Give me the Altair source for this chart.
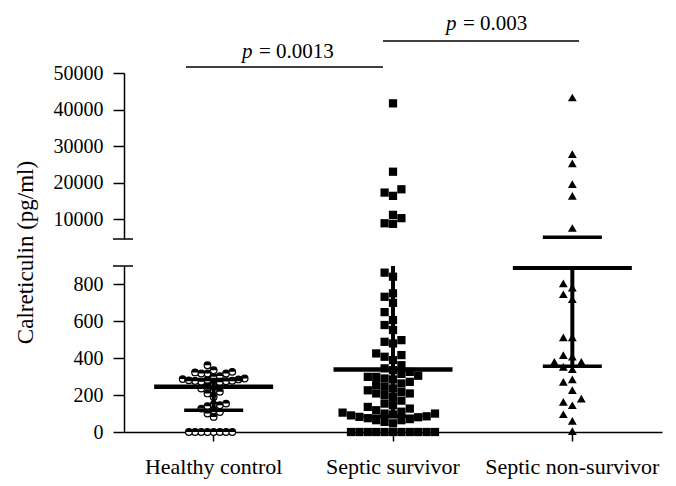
import altair as alt
import pandas as pd

# ---------------- data ----------------
groups = ["Healthy control", "Septic survivor", "Septic non-survivor"]

healthy_values = [0, 0, 0, 0, 0, 0, 0, 0,
                  82, 100, 108, 118, 127, 140, 145, 150, 154, 190, 209, 218,
                  227, 236, 250, 262, 270, 272, 275, 277, 278, 280, 282, 285,
                  287, 290, 299, 303, 317, 317, 317, 323, 326, 335, 362]

survivor_values = [0, 0, 0, 0, 0, 0, 0, 0, 0, 0, 0,
                   47, 55, 64, 64, 70, 75, 80, 82, 85, 90, 95, 100, 100, 105,
                   110, 118, 127, 136, 145, 154, 170, 190, 200, 209, 209, 217,
                   226, 236, 245, 254, 263, 272, 285, 290, 299, 299, 305, 315,
                   326, 335, 345, 362, 390, 408, 417, 426, 480, 489, 498, 553,
                   580, 607, 650, 700, 733, 752, 842, 864,
                   8750, 8900, 10300, 11200, 16400, 17300, 18200, 23000, 41700]

nonsurvivor_values = [5, 60, 96, 145, 163, 181, 227, 272, 285, 340, 353, 380,
                      380, 408, 417, 513, 513, 720, 747, 783, 806,
                      7600, 16400, 19600, 25300, 27800, 43300]

medians = [245, 339, 891]
lower_quartiles = [118, 85, 357]
upper_quartiles = [285, 1500, 5100]

p_values = ["= 0.0013", "= 0.003"]
y_title = "Calreticulin (pg/ml)"
low_ticks = [0, 200, 400, 600, 800]
high_ticks = [10000, 20000, 30000, 40000, 50000]
LOW_DOMAIN = [0, 900]
HIGH_DOMAIN = [4600, 50000]

# ---------------- layout constants ----------------
W, H = 538, 166
BAND = W / 3
FONT = "Liberation Serif"
step = {"Healthy control": 6.2, "Septic survivor": 8.4, "Septic non-survivor": 9.0}


def swarm(vals, ppu, d):
    """Deterministic beeswarm: slot offsets so markers do not overlap."""
    placed, out = [], []
    for v in sorted(vals):
        k = 0
        while True:
            slot = 0 if k == 0 else ((k + 1) // 2) * (-1 if k % 2 else 1)
            if all(not (s == slot and abs(pv - v) * ppu < d * 0.95) for pv, s in placed):
                break
            k += 1
        placed.append((v, slot))
        out.append((v, slot * d))
    return out


rows = []
for g, vals in zip(groups, [healthy_values, survivor_values, nonsurvivor_values]):
    low = [v for v in vals if v <= LOW_DOMAIN[1]]
    high = [v for v in vals if v > LOW_DOMAIN[1]]
    for v, o in swarm(low, H / (LOW_DOMAIN[1] - LOW_DOMAIN[0]), step[g]):
        rows.append({"group": g, "value": v, "offset": o, "panel": "low"})
    for v, o in swarm(high, H / (HIGH_DOMAIN[1] - HIGH_DOMAIN[0]), step[g]):
        rows.append({"group": g, "value": v, "offset": o, "panel": "high"})
points_df = pd.DataFrame(rows)

summary_df = pd.DataFrame({"group": groups, "median": medians,
                           "q1": lower_quartiles, "q3": upper_quartiles})
one = pd.DataFrame({"i": [0]})
ann_df = pd.DataFrame({"label": p_values})


def panel(name):
    low = name == "low"
    ysc = alt.Scale(domain=LOW_DOMAIN if low else HIGH_DOMAIN, nice=False, zero=False)
    if low:
        yax = alt.Axis(values=low_ticks, format="d", titleX=-87, titleY=-14)
        xax = alt.Axis(labelAngle=0)
    else:
        yax = alt.Axis(values=high_ticks, format="d")
        xax = None

    def Y(field):
        if low:
            return alt.Y(field, scale=ysc, axis=yax, title=y_title)
        return alt.Y(field, scale=ysc, axis=yax, title=None)

    X = alt.X("group:N", sort=groups,
              scale=alt.Scale(domain=groups, paddingInner=0, paddingOuter=0),
              axis=xax, title=None)
    OFF = alt.XOffset("offset:Q",
                      scale=alt.Scale(domain=[-80, 80], range=[BAND / 2 - 80, BAND / 2 + 80]))

    base = alt.Chart(points_df).transform_filter(alt.datum.panel == name)
    circ_bg = base.transform_filter(alt.datum.group == groups[0]).mark_point(
        shape="circle", filled=True, fill="white", stroke="black",
        strokeWidth=1.2, size=44, opacity=1).encode(x=X, xOffset=OFF, y=Y("value:Q"))
    circ_top = base.transform_filter(alt.datum.group == groups[0]).mark_point(
        shape="M -1 0 A 1 1 0 0 1 1 0 Z", filled=True, color="black",
        size=44, opacity=1).encode(x=X, xOffset=OFF, y=Y("value:Q"))
    squares = base.transform_filter(alt.datum.group == groups[1]).mark_point(
        shape="square", filled=True, color="black", size=68, opacity=1
    ).encode(x=X, xOffset=OFF, y=Y("value:Q"))
    tris = base.transform_filter(alt.datum.group == groups[2]).mark_point(
        shape="triangle-up", filled=True, color="black", size=78, opacity=1
    ).encode(x=X, xOffset=OFF, y=Y("value:Q"))

    sbase = alt.Chart(summary_df)
    vline = sbase.mark_rule(color="black", strokeWidth=4, clip=True).encode(
        x=X, y=Y("q1:Q"), y2="q3:Q")
    med = sbase.mark_tick(color="black", size=119, thickness=4.5, clip=True, opacity=1).encode(
        x=X, y=Y("median:Q"))
    cap1 = sbase.mark_tick(color="black", size=59, thickness=3.5, clip=True, opacity=1).encode(
        x=X, y=Y("q1:Q"))
    cap3 = sbase.mark_tick(color="black", size=59, thickness=3.5, clip=True, opacity=1).encode(
        x=X, y=Y("q3:Q"))

    brk = alt.Chart(one).mark_rule(color="black", strokeWidth=1.5).encode(
        x=alt.value(-11), x2=alt.value(9), y=alt.value(0 if low else H))

    layers = [circ_bg, circ_top, squares, tris, vline, med, cap1, cap3, brk]

    if not low:
        b1 = alt.Chart(one).mark_rule(color="black", strokeWidth=1.3).encode(
            x=alt.value(62), x2=alt.value(259), y=alt.value(-6))
        b2 = alt.Chart(one).mark_rule(color="black", strokeWidth=1.3).encode(
            x=alt.value(259), x2=alt.value(455), y=alt.value(-32))
        a1 = alt.Chart(ann_df).transform_filter(alt.datum.label == p_values[0])
        a2 = alt.Chart(ann_df).transform_filter(alt.datum.label == p_values[1])
        p1 = a1.mark_text(text="p", font=FONT, fontSize=21, fontStyle="italic",
                          align="left", baseline="alphabetic", color="black").encode(
            x=alt.value(118), y=alt.value(-15))
        t1 = a1.mark_text(font=FONT, fontSize=21, align="left",
                          baseline="alphabetic", color="black").encode(
            x=alt.value(135), y=alt.value(-15), text="label:N")
        p2 = a2.mark_text(text="p", font=FONT, fontSize=21, fontStyle="italic",
                          align="left", baseline="alphabetic", color="black").encode(
            x=alt.value(322), y=alt.value(-43))
        t2 = a2.mark_text(font=FONT, fontSize=21, align="left",
                          baseline="alphabetic", color="black").encode(
            x=alt.value(339), y=alt.value(-43), text="label:N")
        layers += [b1, b2, p1, t1, p2, t2]

    return alt.layer(*layers).properties(width=W, height=H)


chart = alt.vconcat(panel("high"), panel("low"), spacing=27, bounds="flush").resolve_scale(
    y="independent", x="independent"
).properties(
    padding={"left": 5, "right": 5, "top": 5, "bottom": 5},
    background="white",
).configure_view(stroke=None).configure_axis(
    domainColor="black", domainWidth=1.5, tickColor="black", tickWidth=1.5,
    labelFont=FONT, titleFont=FONT, labelColor="black", titleColor="black",
    grid=False, titleFontWeight="normal",
).configure_axisY(
    labelFontSize=20, tickSize=11, labelPadding=10, titleFontSize=23,
).configure_axisX(
    labelFontSize=22, tickSize=9, labelPadding=15, labelAngle=0,
)

chart.save("out.html", embed_options={"renderer": "svg", "actions": False})
